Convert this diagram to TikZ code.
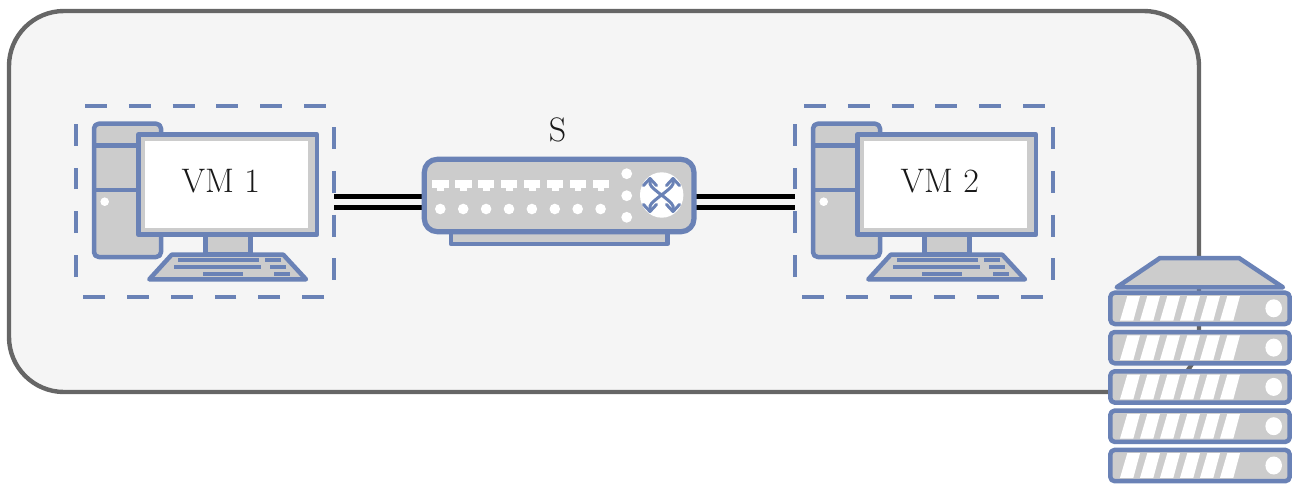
\documentclass[tikz,border=0pt]{standalone}
\definecolor{iconblue}{HTML}{6A82B6}
\definecolor{icongray}{HTML}{CCCCCC}
\definecolor{panelfill}{HTML}{F5F5F5}
\definecolor{panelline}{HTML}{666666}
\tikzset{
  panel/.style={draw=panelline,fill=panelfill,line width=2.2pt,rounded corners=27.5pt},
  ic/.style={draw=iconblue,fill=icongray,line width=2.25pt,line join=round},
  ln/.style={draw=iconblue,line width=2.25pt},
  bluefill/.style={fill=iconblue},
  whitefill/.style={fill=white},
  dashframe/.style={draw=iconblue,line width=2.3pt,dash pattern=on 10.95pt off 10.95pt},
  link/.style={draw=black,line width=2.6pt,double=panelfill,double distance=2.9pt},
  lab/.style={font=\fontsize{17}{20}\selectfont,text=black!90,inner sep=0pt},
}
\newcommand{\pcicon}[3]{%
\begin{scope}[shift={(#1,0)}]
  \draw[ic,rounded corners=2.4pt] (94,123.7) rectangle (161,257);
  \draw[ln] (94,145.7) -- (140,145.7);
  \draw[ln] (94,190) -- (140,190);
  \fill[whitefill] (104.7,201.7) circle[radius=4.3];
  \draw[ic] (205.3,234) rectangle (250.3,254);
  \draw[ic] (138.3,134.7) rectangle (317,234.7);
  \fill[whitefill] (145,140.7) rectangle (308.3,228);
  \draw[ic] (171.7,254.7) -- (283.3,254.7) -- (306,279.3) -- (149.3,279.3) -- cycle;
  \fill[bluefill] (178.3,258.3) rectangle (258.7,262.3);
  \fill[bluefill] (265.3,258.3) rectangle (281,262.3);
  \fill[bluefill] (174,265) rectangle (261,269);
  \fill[bluefill] (270,265) rectangle (285.7,269);
  \fill[bluefill] (203,271.7) rectangle (243,275.7);
  \fill[bluefill] (274.3,271.7) rectangle (290,275.7);
  \node[lab] (#2) at (220.8,181) {#3};
  \draw[dashframe] (85,106) -- (329,106)
    (334,127) -- (334,280)
    (324,297) -- (82,297)
    (76,277) -- (76,123);
\end{scope}}
\newcommand{\serverunit}[1]{%
\begin{scope}[shift={(0,#1)}]
  \draw[ic,rounded corners=2.2pt] (1110.3,292.7) rectangle (1289.7,324);
  \foreach \k in {0,...,5}
    \fill[whitefill] (1120+20*\k,320.7) -- (1133.3+20*\k,320.7) -- (1140+20*\k,296) -- (1127.3+20*\k,296) -- cycle;
  \fill[whitefill] (1273.7,308.3) ellipse[x radius=8.3,y radius=9];
\end{scope}}
\begin{document}
\begin{tikzpicture}[x=0.5pt,y=-0.5pt]
  \useasboundingbox (0,0) rectangle (1292,483);
  \draw[panel] (9,11) rectangle (1199,392);
  \pcicon{0}{vma}{VM 1}
  \pcicon{719}{vmb}{VM 2}
  \coordinate (boxaeast) at (334,201.7);
  \coordinate (boxbwest) at (795,201.7);
  \coordinate (swwest) at (424,201.7);
  \coordinate (sweast) at (694,201.7);
  \draw[link] (boxaeast) -- (swwest);
  \draw[link] (sweast) -- (boxbwest);
  % switch
  \draw[ic] (451,225) rectangle (667.3,244);
  \draw[ic,line width=2.6pt,rounded corners=6.5pt] (424.3,159.3) rectangle (694,231.7);
  \foreach \k in {0,...,7}{
    \fill[whitefill] (432.3+22.9*\k,180) rectangle (448.6+22.9*\k,188.3);
    \fill[whitefill] (437.3+22.9*\k,188) rectangle (444+22.9*\k,191);
    \fill[whitefill] (440.3+22.9*\k,209) circle[radius=5.3];
  }
  \fill[whitefill] (626.7,173.7) circle[radius=5.4];
  \fill[whitefill] (626.7,195.7) circle[radius=5.4];
  \fill[whitefill] (626.7,217.3) circle[radius=5.4];
  \fill[whitefill] (661.7,195) ellipse[x radius=21.7,y radius=22.7];
  \begin{scope}[draw=iconblue,line width=1.5pt,line cap=round,line join=round]
    \draw (650,179) -- (650,184) .. controls (652,190) and (671,200) .. (673,206) -- (673,211);
    \draw (673,179) -- (673,184) .. controls (671,190) and (652,200) .. (650,206) -- (650,211);
    \draw (643.5,185.5) -- (650,178.5) -- (656.5,185.5);
    \draw (666.5,185.5) -- (673,178.5) -- (679.5,185.5);
    \draw (643.5,204.5) -- (650,211.5) -- (656.5,204.5);
    \draw (666.5,204.5) -- (673,211.5) -- (679.5,204.5);
  \end{scope}
  \node[lab] (sw) at (557.5,130) {S};
  % server
  \draw[ic] (1160,258) -- (1239,258) -- (1283,287.3) -- (1116.7,287.3) -- cycle;
  \foreach \k in {0,...,4}{\pgfmathsetmacro{\off}{39.3*\k}\serverunit{\off}}
\end{tikzpicture}
\end{document}
